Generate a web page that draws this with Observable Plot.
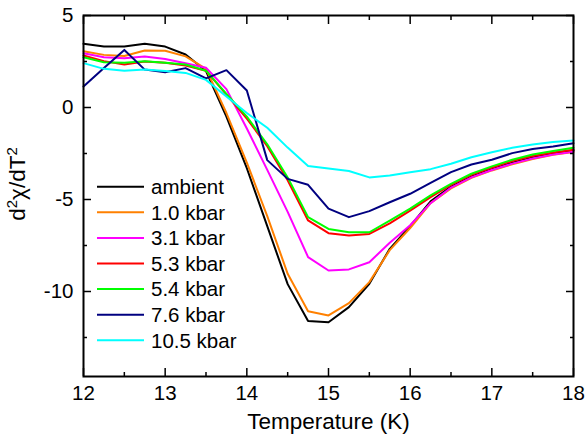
<!DOCTYPE html>
<html><head><meta charset="utf-8">
<script src="https://cdn.jsdelivr.net/npm/d3@7"></script>
<script src="https://cdn.jsdelivr.net/npm/@observablehq/plot@0.6"></script>
<style>
body{margin:0;background:#fff;}
#chart{position:relative;width:587px;height:441px;}
</style></head><body><div id="chart"></div>
<script>
const temperature = [12, 12.25, 12.5, 12.75, 13, 13.25, 13.5, 13.75, 14, 14.25, 14.5, 14.75, 15, 15.25, 15.5, 15.75, 16, 16.25, 16.5, 16.75, 17, 17.25, 17.5, 17.75, 18];
const seriesNames = ["ambient", "1.0 kbar", "3.1 kbar", "5.3 kbar", "5.4 kbar", "7.6 kbar", "10.5 kbar"];
const seriesColors = ["#000000", "#FF8000", "#FF00FF", "#FF0000", "#00FF00", "#000080", "#00FFFF"];

const ambient = [3.46, 3.31, 3.31, 3.46, 3.31, 2.88, 1.98, -0.5, -3.3, -6.45, -9.6, -11.6, -11.67, -10.85, -9.58, -7.68, -6.45, -5.1, -4.3, -3.75, -3.35, -3.0, -2.72, -2.5, -2.33];
const kbar1_0 = [3.06, 2.86, 2.8, 3.1, 3.08, 2.78, 2.1, -0.3, -3.0, -5.9, -9.04, -11.07, -11.3, -10.63, -9.49, -7.75, -6.55, -5.2, -4.4, -3.82, -3.42, -3.08, -2.8, -2.57, -2.42];
const kbar3_1 = [2.95, 2.73, 2.68, 2.77, 2.64, 2.41, 2.16, 1.0, -1.14, -3.39, -5.67, -8.13, -8.86, -8.8, -8.41, -7.35, -6.4, -5.2, -4.35, -3.8, -3.4, -3.05, -2.77, -2.55, -2.4];
const kbar5_3 = [2.83, 2.52, 2.34, 2.5, 2.43, 2.28, 2.0, 0.7, -0.6, -2.1, -3.95, -6.14, -6.83, -6.96, -6.87, -6.3, -5.6, -4.87, -4.2, -3.66, -3.27, -2.91, -2.64, -2.44, -2.3];
const kbar5_4 = [2.73, 2.46, 2.43, 2.52, 2.43, 2.34, 2.0, 0.74, -0.5, -2.0, -3.8, -5.96, -6.6, -6.78, -6.78, -6.15, -5.5, -4.78, -4.15, -3.6, -3.2, -2.84, -2.55, -2.37, -2.19];
const kbar7_6 = [1.14, 2.15, 3.13, 2.06, 1.92, 2.14, 1.58, 2.03, 0.92, -2.86, -3.88, -4.2, -5.5, -5.96, -5.63, -5.15, -4.69, -4.1, -3.51, -3.1, -2.84, -2.48, -2.25, -2.12, -1.94];
const kbar10_5 = [2.41, 2.1, 2.0, 2.06, 1.98, 1.88, 1.5, 0.6, -0.3, -1.1, -2.18, -3.18, -3.32, -3.45, -3.8, -3.7, -3.52, -3.35, -3.06, -2.7, -2.43, -2.19, -2.01, -1.88, -1.79];

const xTicks = [12, 13, 14, 15, 16, 17, 18];
const xMinorTicks = [12.5, 13.5, 14.5, 15.5, 16.5, 17.5];
const yTicks = [5, 0, -5, -10];
const yMinorTicks = [2.5, -2.5, -7.5, -12.5];

const seriesValues = [ambient, kbar1_0, kbar3_1, kbar5_3, kbar5_4, kbar7_6, kbar10_5];
const rows = [];
seriesNames.forEach((name, i) => {
  temperature.forEach((t, j) => rows.push({series: name, T: t, v: seriesValues[i][j]}));
});

const font = "'Liberation Sans', Arial, sans-serif";
const fs = 20.5;
const labelFs = 22.5;

const chart = Plot.plot({
  width: 587,
  height: 441,
  marginLeft: 83,
  marginRight: 14,
  marginTop: 15,
  marginBottom: 65,
  style: {fontFamily: font, fontSize: fs + "px", color: "#000", background: "#fff"},
  x: {domain: [12, 18]},
  y: {domain: [-14.62, 5]},
  color: {domain: seriesNames, range: seriesColors},
  marks: [
    Plot.lineY(rows, {x: "T", y: "v", z: "series", stroke: "series", strokeWidth: 2}),
    Plot.frame({stroke: "#000", strokeWidth: 2}),
    Plot.axisX(xTicks, {anchor: "bottom", tickSize: -8, tickPadding: 17, strokeWidth: 1.5, tickFormat: d => String(d), fontSize: fs, label: null}),
    Plot.axisX(xMinorTicks, {anchor: "bottom", tickSize: -4, strokeWidth: 1.5, tickFormat: () => "", label: null}),
    Plot.axisX(xTicks, {anchor: "top", tickSize: -8, strokeWidth: 1.5, tickFormat: () => "", label: null}),
    Plot.axisX(xMinorTicks, {anchor: "top", tickSize: -4, strokeWidth: 1.5, tickFormat: () => "", label: null}),
    Plot.axisY(yTicks, {anchor: "left", tickSize: -8, tickPadding: 18, strokeWidth: 1.5, tickFormat: d => String(d), fontSize: fs, label: null}),
    Plot.axisY(yMinorTicks, {anchor: "left", tickSize: -4, strokeWidth: 1.5, tickFormat: () => "", label: null}),
    Plot.axisY(yTicks, {anchor: "right", tickSize: -8, strokeWidth: 1.5, tickFormat: () => "", label: null}),
    Plot.axisY(yMinorTicks, {anchor: "right", tickSize: -4, strokeWidth: 1.5, tickFormat: () => "", label: null}),
    Plot.text(["Temperature (K)"], {frameAnchor: "bottom", lineAnchor: "middle", dy: 45, fontSize: labelFs, fill: "#000"})
  ]
});

document.getElementById("chart").appendChild(chart);

const svg = d3.select(chart);

// y-axis label with superscripts
const yl = svg.append("text")
  .attr("transform", "translate(25,184) rotate(-90)")
  .attr("text-anchor", "middle")
  .attr("font-family", font)
  .attr("font-size", labelFs)
  .attr("fill", "#000");
yl.append("tspan").text("d");
yl.append("tspan").attr("dy", -8).attr("font-size", 15).text("2");
yl.append("tspan").attr("dy", 8).text("χ/dT");
yl.append("tspan").attr("dy", -8).attr("font-size", 15).text("2");

// legend inside the plot area
const lg = svg.append("g").attr("font-family", font).attr("font-size", fs).attr("text-anchor", "start");
seriesNames.forEach((name, i) => {
  const y = 186.7 + i * 25.6;
  lg.append("line").attr("x1", 97).attr("x2", 144).attr("y1", y).attr("y2", y)
    .attr("stroke", seriesColors[i]).attr("stroke-width", 2);
  lg.append("text").attr("x", 151).attr("y", y).attr("dy", "0.36em").attr("fill", "#000").text(name);
});
</script>
</body></html>
